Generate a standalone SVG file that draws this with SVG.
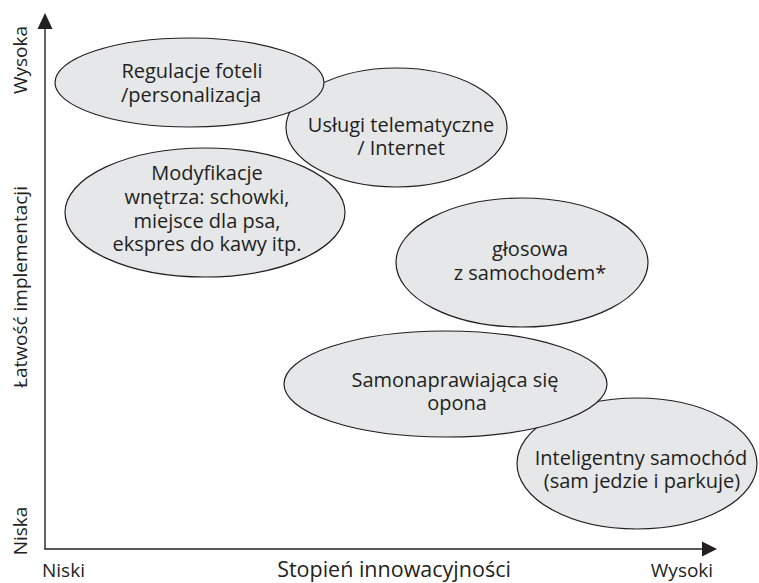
<svg xmlns="http://www.w3.org/2000/svg" width="759" height="583" viewBox="0 0 759 583">
<style>
.node ellipse{fill:#e6e7e8;stroke:#231f20;stroke-width:1.2}
text{font-family:"Open Sans","Noto Sans","Liberation Sans",sans-serif;font-size:20px;fill:#231f20}
.c{text-anchor:middle}
.ax{font-size:19px}
.axis{stroke:#231f20;stroke-width:1.4;fill:none}
.head{fill:#231f20}
</style>
<rect width="759" height="583" fill="#ffffff"/>
<g id="connectors">
<line class="axis" x1="45" y1="26" x2="45" y2="549"/>
<line class="axis" x1="44.3" y1="549" x2="704" y2="549"/>
<polygon class="head" points="45,13 37.5,29 52.5,29"/>
<polygon class="head" points="717,549 702,541.5 702,556.5"/>
</g>
<g id="axis-labels">
<text class="c ax" transform="translate(27,60) rotate(-90)">Wysoka</text>
<text class="c ax" transform="translate(27,287) rotate(-90)">Łatwość implementacji</text>
<text class="c ax" transform="translate(27,531) rotate(-90)">Niska</text>
<text class="ax" x="42" y="577">Niski</text>
<text class="c ax" x="394" y="577" style="font-size:21.5px">Stopień innowacyjności</text>
<text class="c ax" x="682" y="577">Wysoki</text>
</g>
<g id="node-uslugi" class="node">
<ellipse cx="396.5" cy="127.5" rx="110.5" ry="59.5"/>
<text class="c" x="401" y="132">Usługi telematyczne</text>
<text class="c" x="401" y="155">/ Internet</text>
</g>
<g id="node-regulacje" class="node">
<ellipse cx="189.5" cy="82.5" rx="134.5" ry="44.5"/>
<text class="c" x="192" y="78">Regulacje foteli</text>
<text class="c" x="191" y="102">/personalizacja</text>
</g>
<g id="node-modyfikacje" class="node">
<ellipse cx="205" cy="212.5" rx="140" ry="64.5"/>
<text class="c" x="207" y="180">Modyfikacje</text>
<text class="c" x="207" y="204">wnętrza: schowki,</text>
<text class="c" x="207" y="228">miejsce dla psa,</text>
<text class="c" x="207" y="251">ekspres do kawy itp.</text>
</g>
<g id="node-glosowa" class="node">
<ellipse cx="522" cy="262.5" rx="126" ry="64.5"/>
<text class="c" x="530" y="256">głosowa</text>
<text class="c" x="530" y="280">z samochodem*</text>
</g>
<g id="node-inteligentny" class="node">
<ellipse cx="637" cy="463.5" rx="120" ry="65.5"/>
<text class="c" x="641" y="465">Inteligentny samochód</text>
<text class="c" x="642" y="488">(sam jedzie i parkuje)</text>
</g>
<g id="node-samonaprawiajaca" class="node">
<ellipse cx="445.5" cy="384" rx="161.5" ry="53"/>
<text class="c" x="455" y="387">Samonaprawiająca się</text>
<text class="c" x="457" y="410">opona</text>
</g>
</svg>
